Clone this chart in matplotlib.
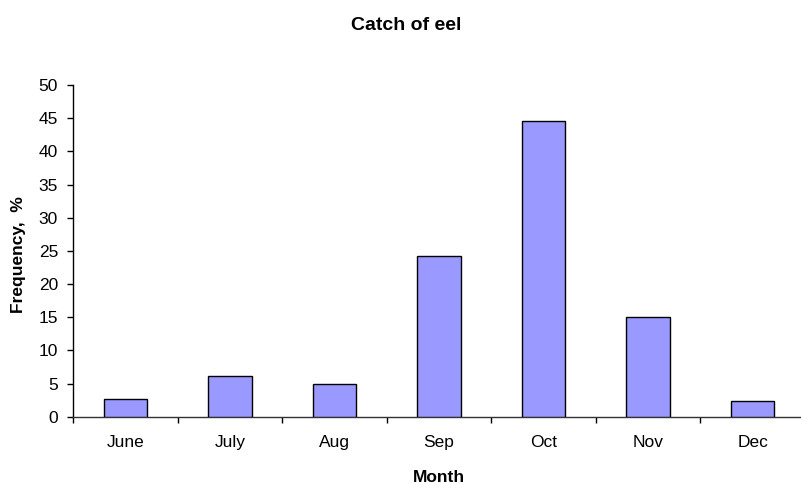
import matplotlib
matplotlib.use("Agg")
import matplotlib.pyplot as plt
import numpy as np

months = ["June", "July", "Aug", "Sep", "Oct", "Nov", "Dec"]
frequency = [2.6, 6.2, 4.9, 24.2, 44.6, 15.0, 2.3]
y_ticks = [0, 5, 10, 15, 20, 25, 30, 35, 40, 45, 50]

plt.rcParams["font.family"] = ["Liberation Sans", "DejaVu Sans"]
FS = 12.5

W, H = 801, 484
fig = plt.figure(figsize=(W / 100, H / 100), dpi=100)
left, right, top, bottom = 73, 805, 85, 416.7
ax = fig.add_axes([left / W, 1 - bottom / H, (right - left) / W, (bottom - top) / H])

x = np.arange(len(months))
ax.bar(x, frequency, width=0.415, color="#9999FF", edgecolor="black", linewidth=1.0, zorder=3)

ax.set_xlim(-0.5, len(months) - 0.5)
ax.set_ylim(0, 50)
ax.set_yticks(y_ticks)
ax.set_yticklabels([str(v) for v in y_ticks], fontsize=FS)

ax.set_xticks(x)
ax.set_xticklabels(months, fontsize=FS)
ax.tick_params(axis="x", length=0, pad=13)
ax.set_xticks(np.arange(len(months) + 1) - 0.5, minor=True)
ax.tick_params(axis="x", which="minor", length=4.5, width=1, direction="out")
ax.tick_params(axis="y", length=4.3, width=1, direction="out", pad=6.5)

for s in ["top", "right"]:
    ax.spines[s].set_visible(False)
ax.spines["left"].set_linewidth(1)
ax.spines["bottom"].set_linewidth(1)
ax.spines["bottom"].set_color("#333333")

# Axis titles and chart title
fig.text(439 / W, 1 - 482 / H, "Month", ha="center", va="baseline",
         fontsize=FS, fontweight="bold")
fig.text(19 / W, 1 - 255 / H, "Frequency,  %", ha="center", va="center",
         rotation=90, fontsize=FS, fontweight="bold")
fig.text(406 / W, 1 - 30 / H, "Catch of eel", ha="center", va="baseline",
         fontsize=14, fontweight="bold")

fig.savefig("out.png", dpi=100)
